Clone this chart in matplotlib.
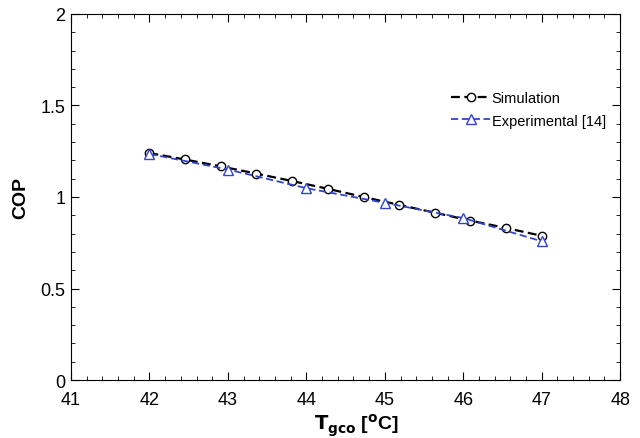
import matplotlib
matplotlib.use('Agg')
import matplotlib.pyplot as plt
from matplotlib.ticker import MultipleLocator

plt.rcParams['font.family'] = ['Liberation Sans', 'DejaVu Sans']

# simulation points (12, evenly spaced 42..47)
sim_x = [42.0, 42.45, 42.91, 43.36, 43.82, 44.27, 44.73, 45.18, 45.64, 46.09, 46.55, 47.0]
sim_cop = [1.24, 1.205, 1.167, 1.128, 1.087, 1.045, 1.0, 0.957, 0.914, 0.871, 0.83, 0.788]

# experimental points
exp_x = [42, 43, 44, 45, 46, 47]
exp_cop = [1.235, 1.15, 1.048, 0.968, 0.885, 0.758]

fig = plt.figure(figsize=(6.4, 4.39), dpi=100)
ax = fig.add_axes([0.111, 0.132, 0.858, 0.834])

ax.plot(sim_x, sim_cop, '--', color='black', lw=1.6, marker='o', ms=6,
        mfc='white', mec='black', mew=1.0, label='Simulation', dashes=(4, 2))
ax.plot(exp_x, exp_cop, '--', color='#3344cc', lw=1.3, marker='^', ms=6.5,
        mfc='white', mec='#3344cc', mew=1.0, label='Experimental [14]', dashes=(4, 2))

ax.set_xlim(41, 48)
ax.set_ylim(0, 2)
ax.xaxis.set_major_locator(MultipleLocator(1))
ax.xaxis.set_minor_locator(MultipleLocator(0.2))
ax.yaxis.set_minor_locator(MultipleLocator(0.1))
ax.set_yticks([0, 0.5, 1, 1.5, 2])
ax.set_yticklabels(['0', '0.5', '1', '1.5', '2'])
ax.tick_params(which='both', direction='in', top=True, right=True, labelsize=13)
ax.tick_params(which='major', length=6)
ax.tick_params(which='minor', length=3)
ax.tick_params(axis='x', pad=8)
ax.tick_params(axis='y', pad=4)

ax.set_xlabel(r'$\mathbf{T_{gco}}$ [$\mathbf{^{o}}$C]', fontsize=14, fontweight='bold')
ax.xaxis.set_label_coords(0.52, -0.085)
ax.set_ylabel('COP', fontsize=14, fontweight='bold', labelpad=8)

ax.legend(loc='upper right', bbox_to_anchor=(0.974, 0.79), frameon=False, fontsize=10.5,
          handlelength=2.7, handletextpad=0.1, labelspacing=0.6,
          borderaxespad=0, borderpad=0)

fig.savefig('out.png', dpi=100)
